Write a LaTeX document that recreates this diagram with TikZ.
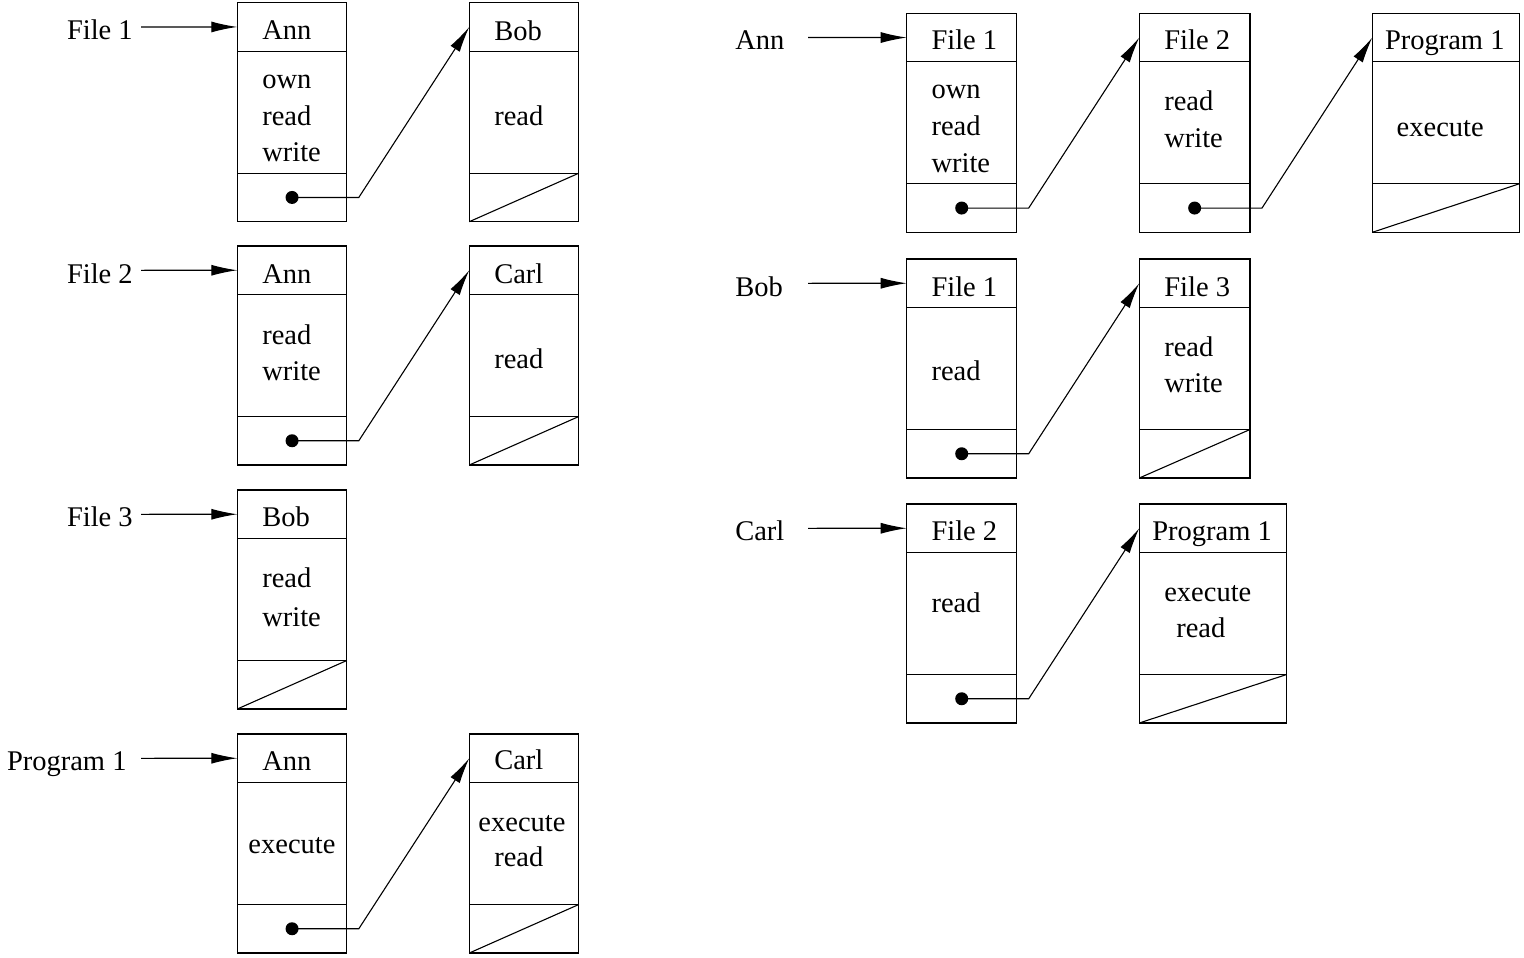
\documentclass[tikz,border=0pt]{standalone}
\usepackage{fontspec}
\setmainfont{Liberation Serif}
\usetikzlibrary{calc,arrows.meta}
\tikzset{
  cellbox/.style={draw, line width=1.1pt, inner sep=0pt, outer sep=0pt, minimum height=219pt},
  txt/.style={inner sep=0pt, outer sep=0pt, anchor=base west, font=\fontsize{28.5}{34}\selectfont},
  ctxt/.style={txt, anchor=base},
  rule/.style={line width=1.1pt},
  ptrarrow/.style={line width=1.1pt, -{Latex[length=26pt,width=11pt]}},
  dotmark/.style={fill=black},
}
\newcommand{\capbox}[4]{%
  \node[cellbox, minimum width=#4pt, anchor=north west] (#1) at (#2,#3) {};
  \coordinate (#1-in) at ($(#1.north west)+(0,24.25)$);
  \draw[rule] ($(#1.north west)+(0,48.5)$) -- ($(#1.north east)+(0,48.5)$);
  \draw[rule] ($(#1.south west)+(0,-48.5)$) -- ($(#1.south east)+(0,-48.5)$);
  \coordinate (#1-dot) at ($(#1.south)+(0,-24.25)$);
  \coordinate (#1-bend) at ($(#1.south east)+(12,-24.25)$);
}
\newcommand{\nilbox}[1]{\draw[rule] (#1.south west) -- ($(#1.south east)+(0,-48.5)$);}
\newcommand{\ptrto}[2]{\fill[dotmark] (#1-dot) circle (6.5pt); \draw[ptrarrow] (#1-dot) -- (#1-bend) -- (#2-in);}
\begin{document}
\begin{tikzpicture}[x=1pt,y=-1pt]
\useasboundingbox (0,0) rectangle (1524,958);

% ---------- left half: access control lists ----------
\capbox{la1}{237.3}{2.7}{109.5}
\capbox{lb1}{469.3}{2.7}{109.5}
\capbox{la2}{237.3}{246}{109.5}
\capbox{lb2}{469.3}{246}{109.5}
\capbox{la3}{237.3}{490}{109.5}
\capbox{la4}{237.3}{734}{109.5}
\capbox{lb4}{469.3}{734}{109.5}
\nilbox{lb1}\nilbox{lb2}\nilbox{la3}\nilbox{lb4}

\node[txt] (lf1) at (67,40) {File 1};
\node[txt] (lf2) at (67,283.3) {File 2};
\node[txt] (lf3) at (67,526.7) {File 3};
\node[txt] (lp1) at (7,770) {Program 1};
\coordinate (ls1) at (141,27);
\coordinate (ls2) at (141,270.3);
\coordinate (ls3) at (141,514.3);
\coordinate (ls4) at (141,758.3);
\draw[ptrarrow] (ls1) -- (la1-in);
\draw[ptrarrow] (ls2) -- (la2-in);
\draw[ptrarrow] (ls3) -- (la3-in);
\draw[ptrarrow] (ls4) -- (la4-in);

\node[txt] (la1h) at (262.3,40) {Ann};
\node[txt] (la1a) at (262.3,88.3) {own};
\node[txt] (la1b) at (262.3,125) {read};
\node[txt] (la1c) at (262.3,161) {write};
\node[txt] (lb1h) at (494.3,40.7) {Bob};
\node[txt] (lb1a) at (494.3,125) {read};

\node[txt] (la2h) at (262.3,283.3) {Ann};
\node[txt] (la2a) at (262.3,344) {read};
\node[txt] (la2b) at (262.3,380.7) {write};
\node[txt] (lb2h) at (494.3,283.3) {Carl};
\node[txt] (lb2a) at (494.3,368.3) {read};

\node[txt] (la3h) at (262.3,526.7) {Bob};
\node[txt] (la3a) at (262.3,587.3) {read};
\node[txt] (la3b) at (262.3,626) {write};

\node[txt] (la4h) at (262.3,770) {Ann};
\node[ctxt] (la4a) at (292,853.3) {execute};
\node[txt] (lb4h) at (494.3,769.3) {Carl};
\node[ctxt] (lb4a) at (522,831) {execute};
\node[txt] (lb4b) at (494.3,866.7) {read};

\ptrto{la1}{lb1}
\ptrto{la2}{lb2}
\ptrto{la4}{lb4}

% ---------- right half: capability lists ----------
\capbox{ra1}{906.7}{13.3}{110}
\capbox{rb1}{1139.3}{13.3}{110.7}
\capbox{rc1}{1372.3}{13.3}{147}
\capbox{ra2}{906.7}{259}{110}
\capbox{rb2}{1139.3}{259}{110.7}
\capbox{ra3}{906.7}{504}{110}
\capbox{rb3}{1139.3}{504}{147.3}
\nilbox{rc1}\nilbox{rb2}\nilbox{rb3}

\node[txt] (rn1) at (735.3,50) {Ann};
\node[txt] (rn2) at (735.3,296) {Bob};
\node[txt] (rn3) at (735.3,540.7) {Carl};
\coordinate (rs1) at (808,37.5);
\coordinate (rs2) at (808,283.3);
\coordinate (rs3) at (808,528.3);
\draw[ptrarrow] (rs1) -- (ra1-in);
\draw[ptrarrow] (rs2) -- (ra2-in);
\draw[ptrarrow] (rs3) -- (ra3-in);

\node[txt] (ra1h) at (931.5,50) {File 1};
\node[txt] (ra1a) at (931.5,99) {own};
\node[txt] (ra1b) at (931.5,135.7) {read};
\node[txt] (ra1c) at (931.5,172.7) {write};
\node[txt] (rb1h) at (1164.3,50) {File 2};
\node[txt] (rb1a) at (1164.3,110.3) {read};
\node[txt] (rb1b) at (1164.3,147.3) {write};
\node[txt] (rc1h) at (1385,50) {Program 1};
\node[txt] (rc1a) at (1396.7,136.7) {execute};

\node[txt] (ra2h) at (931.5,296) {File 1};
\node[txt] (ra2a) at (931.5,380) {read};
\node[txt] (rb2h) at (1164.3,296) {File 3};
\node[txt] (rb2a) at (1164.3,356) {read};
\node[txt] (rb2b) at (1164.3,392.7) {write};

\node[txt] (ra3h) at (931.5,540.7) {File 2};
\node[txt] (ra3a) at (931.5,612.7) {read};
\node[txt] (rb3h) at (1152.3,540.7) {Program 1};
\node[txt] (rb3a) at (1164.3,601.7) {execute};
\node[txt] (rb3b) at (1176.3,637.3) {read};

\ptrto{ra1}{rb1}
\ptrto{rb1}{rc1}
\ptrto{ra2}{rb2}
\ptrto{ra3}{rb3}
\end{tikzpicture}
\end{document}
